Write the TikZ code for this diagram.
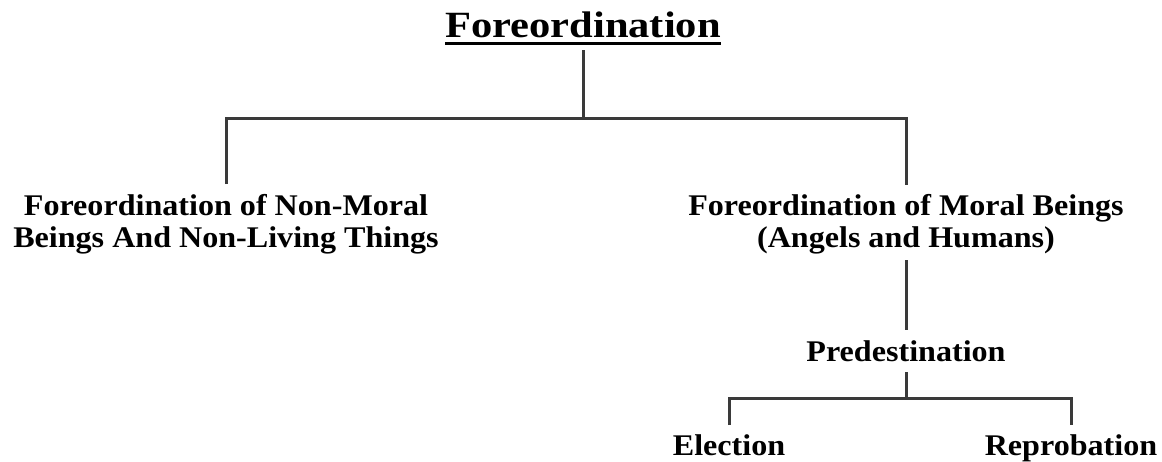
\documentclass[tikz,border=0pt]{standalone}
\usepackage{fontspec}
\usepackage{graphicx}
\setmainfont{Liberation Serif}
\usetikzlibrary{calc}
\definecolor{linegray}{HTML}{3A3A3A}
\newcommand{\wideA}[1]{\scalebox{1.07}[1]{#1}}
\newcommand{\wideT}[1]{\scalebox{1.15}[1]{#1}}
\begin{document}
\begin{tikzpicture}[x=1pt,y=-1pt,
  conn/.style={draw=linegray,line width=3pt},
  lbl/.style={inner sep=0pt,outer sep=0pt,anchor=base,align=center,
    font=\bfseries\fontsize{30}{32}\selectfont},
  ttl/.style={inner sep=0pt,outer sep=0pt,anchor=base,
    font=\bfseries\fontsize{37}{40}\selectfont}]
\useasboundingbox (0,0) rectangle (1162,461);
\node[ttl] (title) at (583,37) {\wideT{Foreordination}};
\draw[line width=3pt] ($(title.base west)+(0,6.5)$) -- ($(title.base east)+(0,6.5)$);
\node[lbl] (left) at (226,247) {\wideA{Foreordination of Non-Moral}\\\wideA{Beings And Non-Living Things}};
\node[lbl] (right) at (906,247) {\wideA{Foreordination of Moral Beings}\\\wideA{(Angels and Humans)}};
\node[lbl] (pred) at (906,361) {\wideA{Predestination}};
\node[lbl] (elec) at (729,455) {\wideA{Election}};
\node[lbl] (repr) at (1071,455) {\wideA{Reprobation}};
\coordinate (j1) at (583,118);
\coordinate (j2) at (906,398);
\draw[conn] ($(title.base)+(0,13)$) -- (j1);
\draw[conn] ($(left.base)+(0,-63)$) |- (j1) -| ($(right.base)+(0,-62)$);
\draw[conn] ($(right.base)+(0,13)$) -- ($(pred.base)+(0,-31)$);
\draw[conn] ($(pred.base)+(0,11)$) -- (j2);
\draw[conn] ($(elec.base)+(0,-30)$) |- (j2) -| ($(repr.base)+(0,-30)$);
\end{tikzpicture}
\end{document}
